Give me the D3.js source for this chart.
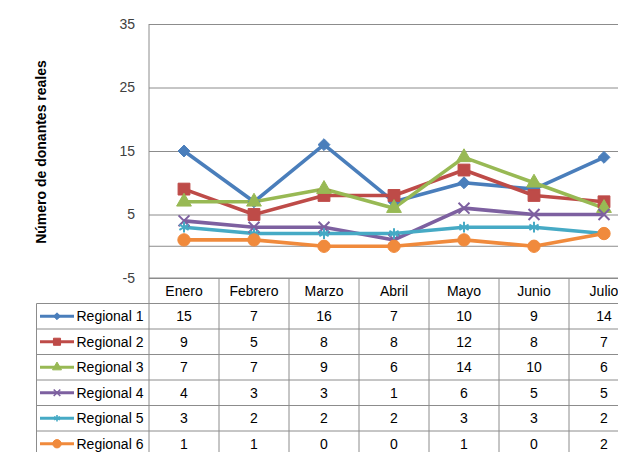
<!DOCTYPE html>
<html><head><meta charset="utf-8">
<script src="https://cdn.jsdelivr.net/npm/d3@7"></script>
<style>body{margin:0;background:#fff;} svg{display:block;font-family:"Liberation Sans",Arial,sans-serif;}</style>
</head><body><svg id="c" width="618" height="452"></svg>
<script>
const months = ["Enero","Febrero","Marzo","Abril","Mayo","Junio","Julio"];
const seriesNames = ["Regional 1","Regional 2","Regional 3","Regional 4","Regional 5","Regional 6"];
const regional1 = [15,7,16,7,10,9,14];
const regional2 = [9,5,8,8,12,8,7];
const regional3 = [7,7,9,6,14,10,6];
const regional4 = [4,3,3,1,6,5,5];
const regional5 = [3,2,2,2,3,3,2];
const regional6 = [1,1,0,0,1,0,2];
const yTicks = [-5,5,15,25,35];
const colors = ["#4A7EBB","#BE4B48","#98B954","#7D60A0","#46AAC5","#F08A3C"];
const symbols = [d3.symbolDiamond2, d3.symbolSquare, d3.symbolTriangle, d3.symbolTimes, d3.symbolAsterisk, d3.symbolCircle];
const symSize = [90, 140, 95, 80, 80, 120];
const symSizeLegend = [30, 50, 35, 30, 30, 55];
const values = [regional1,regional2,regional3,regional4,regional5,regional6];

const svg = d3.select("#c");
const plotL = 149, plotR = 639, plotT = 24, plotB = 278;
const y = d3.scaleLinear().domain([-5,35]).range([plotB, plotT]);
const x = d3.scaleBand().domain(months).range([plotL, plotR]);
const cx = m => x(m) + x.bandwidth()/2;
const rowH = 25.5;
const rows = d3.scaleBand().domain(["header", ...seriesNames]).range([plotB, plotB + 7*rowH]);
const grid = "#8c8c8c";

// gridlines
svg.append("g").attr("transform",`translate(${plotL},0)`)
  .call(d3.axisLeft(y).tickValues(yTicks).tickSize(-(plotR-plotL)).tickFormat(""))
  .call(g=>g.select(".domain").remove())
  .call(g=>g.selectAll("line").attr("stroke",grid).attr("stroke-width",1));
// zero axis line
svg.append("line").attr("x1",plotL).attr("x2",plotR).attr("y1",y(0)).attr("y2",y(0)).attr("stroke",grid);
// left axis line
svg.append("line").attr("x1",plotL).attr("x2",plotL).attr("y1",plotT).attr("y2",plotB).attr("stroke",grid);

// tick labels
svg.append("g").attr("transform",`translate(${plotL},0)`)
  .call(d3.axisLeft(y).tickValues(yTicks).tickSize(0).tickPadding(14).tickFormat(d=>String(d)))
  .call(g=>g.select(".domain").remove())
  .call(g=>g.selectAll("text").attr("font-size",14).attr("fill","#404040").attr("font-family","Liberation Sans, Arial, sans-serif"));

// axis title
svg.append("text").attr("transform",`translate(46,${(plotT+plotB)/2+1}) rotate(-90)`)
  .attr("text-anchor","middle").attr("font-size",14).attr("font-weight","bold").attr("fill","#000")
  .text("Número de donantes reales");

// lines
const line = d3.line().x((d,i)=>cx(months[i])).y(d=>y(d));
values.forEach((vals,s)=>{
  svg.append("path").datum(vals).attr("d",line).attr("fill","none")
    .attr("stroke",colors[s]).attr("stroke-width",3.6).attr("stroke-linejoin","round");
});
values.forEach((vals,s)=>{
  const sym = d3.symbol().type(symbols[s]).size(symSize[s]);
  const stroked = (s===3||s===4);
  svg.append("g").selectAll("path").data(vals).join("path")
    .attr("transform",(d,i)=>`translate(${cx(months[i])},${y(d)})`)
    .attr("d",sym)
    .attr("fill",stroked?"none":colors[s])
    .attr("stroke",colors[s]).attr("stroke-width",stroked?2:1);
});

// table
const tb = svg.append("g");
const tableLeft = 36.5;
const tableBottom = plotB + 7*rowH;
["header",...seriesNames].forEach((r,i)=>{
  const yy = rows(r) + rows.bandwidth();
  tb.append("line").attr("x1", tableLeft).attr("x2",plotR).attr("y1",yy).attr("y2",yy).attr("stroke",grid);
});
tb.append("line").attr("x1",plotL).attr("x2",plotR).attr("y1",plotB).attr("y2",plotB).attr("stroke",grid);
months.forEach(m=>{
  tb.append("line").attr("x1",x(m)).attr("x2",x(m)).attr("y1",plotB).attr("y2",tableBottom).attr("stroke",grid);
});
tb.append("line").attr("x1",plotR).attr("x2",plotR).attr("y1",plotB).attr("y2",tableBottom).attr("stroke",grid);
tb.append("line").attr("x1",tableLeft).attr("x2",tableLeft).attr("y1",rows("Regional 1")).attr("y2",tableBottom).attr("stroke",grid);

months.forEach(m=>{
  tb.append("text").attr("x",cx(m)).attr("y",rows("header")+rows.bandwidth()/2+5)
    .attr("text-anchor","middle").attr("font-size",14).attr("fill","#000").text(m);
});
seriesNames.forEach((name,s)=>{
  const yc = rows(name)+rows.bandwidth()/2;
  tb.append("line").attr("x1",40).attr("x2",74).attr("y1",yc).attr("y2",yc).attr("stroke",colors[s]).attr("stroke-width",3);
  const stroked = (s===3||s===4);
  tb.append("path").attr("transform",`translate(57,${yc})`).attr("d",d3.symbol().type(symbols[s]).size(symSizeLegend[s]))
    .attr("fill",stroked?"none":colors[s]).attr("stroke",colors[s]).attr("stroke-width",stroked?1.6:1);
  tb.append("text").attr("x",76.5).attr("y",yc+5).attr("font-size",14).attr("fill","#000").text(name);
  values[s].forEach((v,i)=>{
    tb.append("text").attr("x",cx(months[i])).attr("y",yc+5).attr("text-anchor","middle").attr("font-size",14).attr("fill","#000").text(v);
  });
});
</script></body></html>
